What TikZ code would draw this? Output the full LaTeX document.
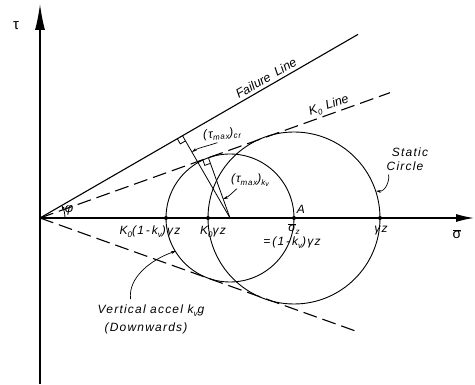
\documentclass[tikz,border=0pt]{standalone}
\usepackage{fontspec}
\setmainfont{Liberation Sans}
\newfontfamily\lab[LetterSpace=10]{Liberation Sans}
\newfontfamily\labr{Liberation Sans}
\usetikzlibrary{arrows.meta,calc}
\newcommand{\lsub}[1]{\raisebox{-0.45ex}{\footnotesize #1}}
\newcommand{\lsubb}[1]{\raisebox{-0.35ex}{\scriptsize #1}}
\begin{document}
\begin{tikzpicture}[x=1pt,y=-1pt,
  axis/.style={line width=1.3pt},
  fline/.style={line width=1.1pt},
  dline/.style={line width=1.1pt, dash pattern=on 14pt off 6pt},
  circ/.style={line width=0.9pt},
  thinl/.style={line width=0.8pt},
  lbl/.style={font=\lab\itshape\fontsize{12}{13}\selectfont, inner sep=0pt},
  rlbl/.style={font=\labr\itshape\fontsize{12.5}{13}\selectfont, inner sep=0pt},
  lead/.style={line width=0.7pt, -{Stealth[length=5pt,width=3pt]}},
  dot/.style={circle, fill, inner sep=0pt, minimum size=4pt},
]
\useasboundingbox (0,0) rectangle (475,385);
% key points
\coordinate (O) at (40,218);
\coordinate (Ytop) at (40,4);
\coordinate (Ybot) at (40,384);
\coordinate (Xend) at (474,218);
\coordinate (Fend) at (358,34.4);
\coordinate (Kend) at (390,92.7);
\coordinate (Lend) at (358,331.9);
\coordinate (C1) at (230,218);
\coordinate (C2) at (294,218);
\coordinate (T1) at (208.4,157.7);
\coordinate (F1) at (182.5,135.7);
% axes
\draw[axis,-{Latex[length=26pt,width=10pt]}] (Ybot) -- (Ytop);
\draw[axis,-{Latex[length=18pt,width=8pt]}] (O) -- (Xend);
% lines
\draw[fline] (O) -- (Fend);
\draw[dline] (O) -- (Kend);
\draw[dline] (O) -- (Lend);
% circles
\draw[circ] (C1) circle[radius=64];
\draw[circ] (C2) circle[radius=86];
% radii
\draw[thinl] (F1) -- (C1);
\draw[thinl] (T1) -- (C1);
% right-angle marks
\coordinate (Fa) at ($(F1)!6pt!(O)$);
\coordinate (Fb) at ($(F1)!6pt!(C1)$);
\coordinate (Fc) at ($(Fa)+(Fb)-(F1)$);
\draw[thinl] (Fa) -- (Fc) -- (Fb);
\coordinate (Ta) at ($(T1)!6pt!(O)$);
\coordinate (Tb) at ($(T1)!6pt!(C1)$);
\coordinate (Tc) at ($(Ta)+(Tb)-(T1)$);
\draw[thinl] (Ta) -- (Tc) -- (Tb);
% angle phi
\draw[thinl,-{Stealth[length=4pt,width=3pt]}] ($(O)+(25,0)$) arc[start angle=0, end angle=-30, radius=25];
% dots
\node[dot] (p1) at (166,218) {};
\node[dot] (p2) at (208,218) {};
\node[dot] (p3) at (294,218) {};
\node[dot] (p4) at (380,218) {};
% labels
\node[lbl] (tau) at (16,26) {\upshape\fontsize{15}{16}\selectfont τ};
\node[lbl] (sig) at (457,234) {\upshape\fontsize{14}{15}\selectfont\ensuremath{\overline{\mbox{σ}}}};
\node[rlbl, rotate=30] (fl) at (266,78) {Failure\hspace{6pt}Line};
\node[rlbl, rotate=19] (k0l) at (329,106) {K\lsub{0}\hspace{5pt}Line};
\node[lbl, rotate=5] (tcr) at (222,134) {(τ\lsub{max})\lsub{cr}};
\node[lbl] (tkv) at (250,180) {(τ\lsub{max})\lsub{k\lsubb{v}}};
\node[lbl] (A) at (301,209) {A};
\node[lbl] (sz) at (294,229) {\ensuremath{\overline{\mbox{σ}}}\lsub{z}};
\node[lbl] (eq) at (292,243) {=\,(1\,-\,k\lsub{v})γz};
\node[lbl] (lk1) at (150,232) {K\lsub{0}(1\,-\,k\lsub{v})γz};
\node[lbl] (lk0) at (213,232) {K\lsub{0}γz};
\node[lbl] (lgz) at (381,231) {γz};
\node[lbl] (sc1) at (410,152) {Static};
\node[lbl] (sc2) at (405,166) {Circle};
\node[lbl] (va) at (151,311) {Vertical accel k\lsub{v}g};
\node[lbl] (dw) at (146,328) {(Downwards)};
\node[lbl] (phi) at (69,210) {\fontsize{13}{14}\selectfont φ};
% leaders
\coordinate (Ecr) at (192,152);
\coordinate (Ekv) at (223,199);
\coordinate (Esc) at (376,191);
\coordinate (Eva) at (176,251);
\draw[lead] ($(tcr.south west)+(14,1)$) .. controls (204,147) and (198,148) .. (Ecr);
\draw[lead] ($(tkv.south west)+(6,2)$) .. controls (231,194) and (228,197) .. (Ekv);
\draw[lead] ($(sc2.south west)+(2,4)$) .. controls (390,179) and (386,192) .. (Esc);
\draw[lead] ($(va.north west)+(33,-6)$) .. controls (128,278) and (150,260) .. (Eva);
\end{tikzpicture}
\end{document}
